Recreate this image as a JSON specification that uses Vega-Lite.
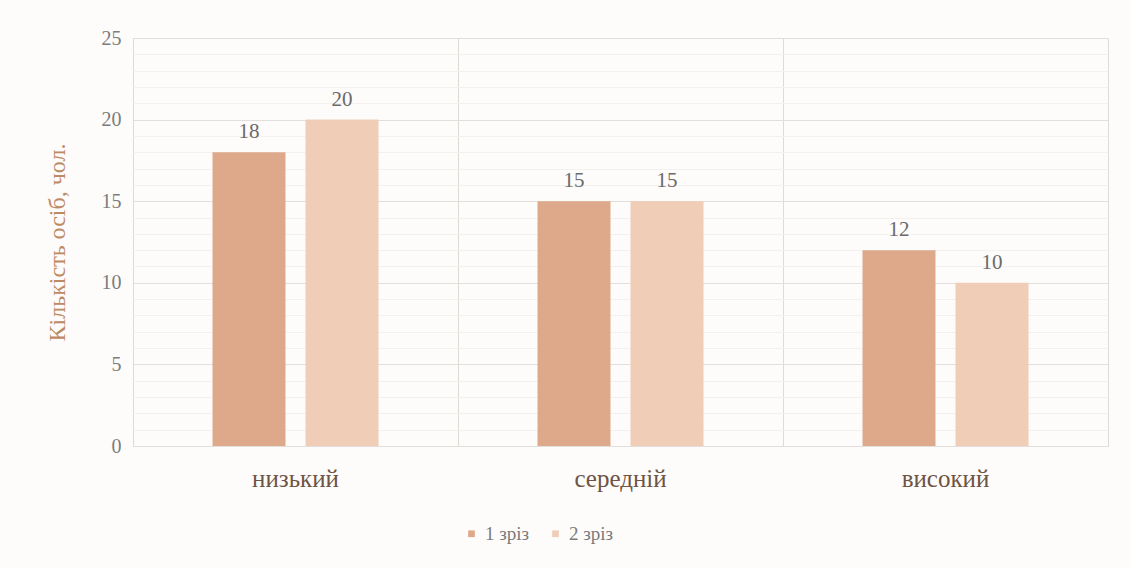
{
  "$schema": "https://vega.github.io/schema/vega-lite/v6.json",
  "width": 975,
  "height": 408,
  "autosize": {"type": "none"},
  "padding": {"left": 133, "top": 38, "right": 22, "bottom": 122},
  "background": "#fdfcfb",
  "data": {
    "values": [
      {"level": "низький", "series": "1 зріз", "count": 18},
      {"level": "низький", "series": "2 зріз", "count": 20},
      {"level": "середній", "series": "1 зріз", "count": 15},
      {"level": "середній", "series": "2 зріз", "count": 15},
      {"level": "високий", "series": "1 зріз", "count": 12},
      {"level": "високий", "series": "2 зріз", "count": 10}
    ]
  },
  "encoding": {
    "x": {
      "field": "level", "type": "nominal", "sort": ["низький", "середній", "високий"],
      "scale": {"paddingInner": 0, "paddingOuter": 0},
      "axis": {
        "title": null, "labelAngle": 0, "labelFont": "Liberation Serif", "labelFontSize": 25,
        "labelColor": "#6f5444", "labelPadding": 20, "ticks": false, "domain": false,
        "grid": true, "bandPosition": 0, "gridColor": "#dedad6", "gridWidth": 1
      }
    },
    "xOffset": {
      "field": "series", "type": "nominal",
      "scale": {"paddingInner": 0.215, "paddingOuter": 0.855}
    },
    "y": {
      "field": "count", "type": "quantitative",
      "scale": {"domain": [0, 25], "nice": false},
      "axis": {
        "title": "Кількість осіб, чол.", "titleFont": "Liberation Serif", "titleFontSize": 24,
        "titleFontWeight": "normal", "titleColor": "#bd8a64", "titlePadding": 32,
        "values": [0,1,2,3,4,5,6,7,8,9,10,11,12,13,14,15,16,17,18,19,20,21,22,23,24,25],
        "labelExpr": "datum.value % 5 === 0 ? datum.label : ''",
        "labelFont": "Liberation Serif", "labelFontSize": 20, "labelColor": "#7c7c7c",
        "labelPadding": 12, "ticks": false, "domain": false,
        "gridColor": {"condition": {"test": "datum.value % 5 === 0", "value": "#e2dedb"}, "value": "#f3f0ee"},
        "gridWidth": 1
      }
    }
  },
  "layer": [
    {
      "mark": {"type": "bar"},
      "encoding": {
        "color": {
          "field": "series", "type": "nominal",
          "scale": {"domain": ["1 зріз", "2 зріз"], "range": ["#dea98a", "#efcdb7"]},
          "legend": {
            "title": null, "orient": "none", "legendX": 329, "legendY": 486, "direction": "horizontal",
            "symbolType": "square", "symbolSize": 45, "labelFont": "Liberation Serif", "labelFontSize": 19,
            "labelColor": "#7a7a7a", "columnPadding": 16, "labelOffset": 4
          }
        }
      }
    },
    {
      "mark": {"type": "text", "dy": -20, "font": "Liberation Serif", "fontSize": 21, "color": "#6a6a6a"},
      "encoding": {"text": {"field": "count", "type": "quantitative"}}
    }
  ],
  "config": {
    "view": {"stroke": "#dedad6", "strokeWidth": 1}
  }
}
